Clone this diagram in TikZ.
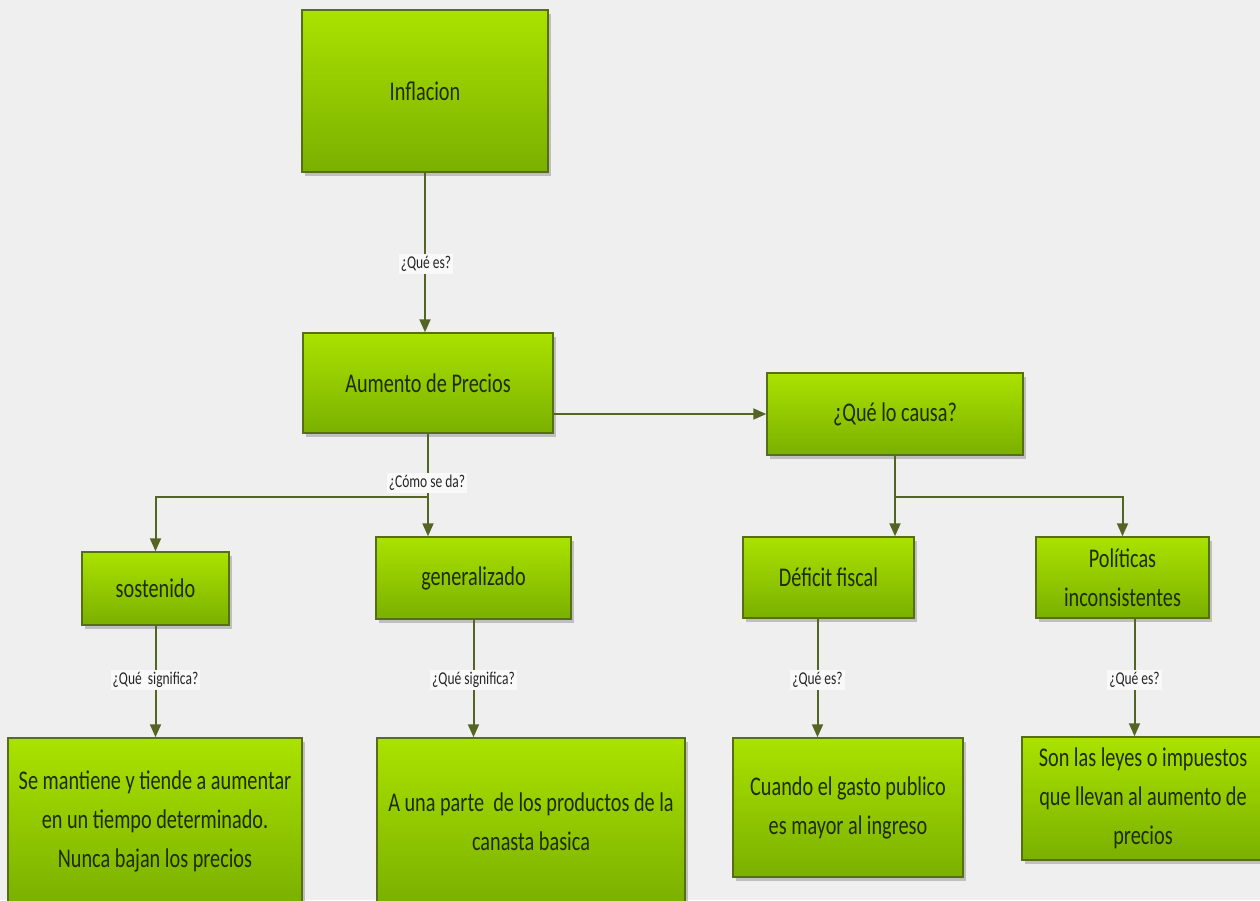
\documentclass[tikz,border=0pt]{standalone}
\usepackage{fontspec}
\setmainfont{Carlito}[FakeStretch=0.75]
\usetikzlibrary{arrows.meta,shadows}
\definecolor{bgcol}{RGB}{239,239,239}
\definecolor{limetop}{RGB}{170,226,0}
\definecolor{limebot}{RGB}{122,176,0}
\definecolor{boxline}{RGB}{88,110,20}
\definecolor{arrowcol}{RGB}{84,100,36}
\definecolor{textcol}{RGB}{30,45,0}
\tikzset{
  box/.style={draw=boxline, line width=1.5pt, top color=limetop, bottom color=limebot,
    text=textcol, align=center, inner sep=4pt, font=\fontsize{27}{39}\selectfont,
    drop shadow={shadow xshift=3pt, shadow yshift=-4pt, fill=black!60, opacity=0.35}},
  ask/.style={fill=white!60!bgcol, text=black!85, inner sep=2pt, font=\fontsize{18}{20}\selectfont},
  arr/.style={draw=arrowcol, line width=2pt, -{Triangle[length=13pt,width=11pt]}},
}

\begin{document}
\begin{tikzpicture}[x=1pt, y=-1pt]
        \fill[bgcol] (0,0) rectangle (1260,900);
        \useasboundingbox (0,0) rectangle (1260,900);

        % Nodes
        \node (inflacion) [box, minimum width=246pt, minimum height=162pt] at (425,91) {Inflacion};
        \node (aumento) [box, minimum width=250pt, minimum height=100pt] at (428,383) {Aumento de Precios};
        \node (causa) [box, minimum width=256pt, minimum height=82pt] at (895,414) {¿Qué lo causa?};
        \node (sostenido) [box, minimum width=147pt, minimum height=73pt] at (155.5,588.5) {sostenido};
        \node (generalizado) [box, minimum width=195pt, minimum height=82pt] at (473.5,578) {generalizado};
        \node (deficit) [box, minimum width=171pt, minimum height=81pt] at (828.5,577.5) {Déficit fiscal};
        \node (politicas) [box, minimum width=173pt, minimum height=81pt] at (1122.5,577.5) {Políticas\\inconsistentes};
        \node (mantiene) [box, minimum width=294pt, minimum height=167pt] at (155,821.5) {Se mantiene y tiende a aumentar\\en un tiempo determinado.\\Nunca bajan los precios};
        \node (canasta) [box, minimum width=308pt, minimum height=167pt] at (531,821.5) {A una parte\ \ de los productos de la\\canasta basica};
        \node (cuando) [box, minimum width=230pt, minimum height=139pt] at (848,807.5) {Cuando el gasto publico\\es mayor al ingreso};
        \node (leyes) [box, minimum width=242pt, minimum height=123pt] at (1143,798.5) {Son las leyes o impuestos\\que llevan al aumento de\\precios};
        \coordinate (split1) at ([yshift=-63pt]aumento.south);
        \coordinate (split2) at ([yshift=-41pt]causa.south);

        % Arrows
        \draw [arr] (inflacion.south) -- (inflacion.south |- aumento.north);
        \draw [arr] (causa.west -| aumento.east) -- (causa.west);
        \draw [arr] (aumento.south) -- (aumento.south |- generalizado.north);
        \draw [arr] (split1) -| (sostenido.north);
        \draw [arr] (causa.south) -- (causa.south |- deficit.north);
        \draw [arr] (split2) -| (politicas.north);
        \draw [arr] (sostenido.south) -- (sostenido.south |- mantiene.north);
        \draw [arr] (generalizado.south) -- (generalizado.south |- canasta.north);
        \draw [arr] ([xshift=-11pt]deficit.south) -- ([xshift=-11pt]deficit.south |- cuando.north);
        \draw [arr] ([xshift=12pt]politicas.south) -- ([xshift=12pt]politicas.south |- leyes.north);

        % Labels
        \node (q1) [ask] at (426,264) {¿Qué es?};
        \node (q2) [ask] at (427,483) {¿Cómo se da?};
        \node (q3) [ask] at (155.5,680) {¿Qué\ \ significa?};
        \node (q4) [ask] at (473.5,680) {¿Qué significa?};
        \node (q5) [ask] at (817.5,680) {¿Qué es?};
        \node (q6) [ask] at (1134.5,680) {¿Qué es?};
\end{tikzpicture}
\end{document}
